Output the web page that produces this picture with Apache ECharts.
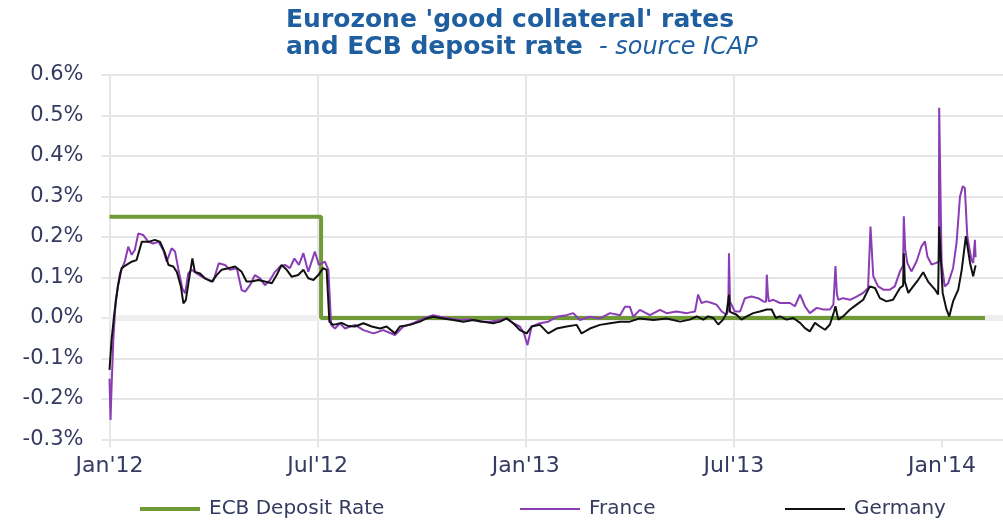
<!DOCTYPE html>
<html>
<head>
<meta charset="utf-8">
<script src="https://cdn.jsdelivr.net/npm/echarts@6/dist/echarts.min.js"></script>
<style>html,body{margin:0;padding:0;background:#fff;}#c{width:1003px;height:520px;}</style>
</head>
<body>
<div id="c"></div>
<script>
// x = months since Jan 2012
const xTickLabels = ["Jan'12", "Jul'12", "Jan'13", "Jul'13", "Jan'14"];
const xTickValues = [0, 6, 12, 18, 24];
const seriesNames = ["ECB Deposit Rate", "France", "Germany"];

const ecbRate = [[0,0.25],[6.1,0.25],[6.1,0],[25.24,0]];

const france = [
[0.00,-0.15],[0.03,-0.252],[0.06,-0.17],[0.11,-0.054],[0.18,0.044],[0.30,0.110],[0.44,0.139],[0.54,0.176],[0.64,0.156],[0.73,0.168],[0.83,0.209],[0.97,0.205],[1.12,0.188],[1.26,0.184],[1.41,0.188],[1.55,0.168],[1.65,0.139],[1.79,0.172],[1.89,0.164],[1.98,0.123],[2.10,0.073],[2.18,0.061],[2.27,0.110],[2.37,0.119],[2.51,0.110],[2.66,0.102],[2.85,0.094],[2.99,0.090],[3.15,0.135],[3.33,0.131],[3.47,0.119],[3.67,0.123],[3.81,0.069],[3.91,0.065],[4.05,0.081],[4.19,0.106],[4.34,0.098],[4.48,0.081],[4.63,0.094],[4.77,0.114],[4.92,0.127],[5.06,0.131],[5.20,0.123],[5.33,0.147],[5.46,0.131],[5.59,0.160],[5.73,0.114],[5.92,0.164],[6.04,0.131],[6.21,0.139],[6.31,0.119],[6.39,-0.017],[6.50,-0.026],[6.64,-0.013],[6.79,-0.026],[7.08,-0.017],
[7.32,-0.030],[7.61,-0.038],[7.89,-0.030],[8.23,-0.042],[8.47,-0.021],[8.76,-0.013],[9.05,-0.001],[9.33,0.007],[9.53,0.003],[9.82,-0.001],[10.10,-0.005],[10.39,-0.003],[10.68,-0.009],[10.97,-0.009],[11.26,-0.005],[11.45,-0.001],[11.64,-0.013],[11.83,-0.021],[11.95,-0.038],[12.05,-0.067],[12.17,-0.021],[12.41,-0.013],[12.65,-0.009],[12.89,0.003],[13.18,0.007],[13.37,0.012],[13.56,-0.005],[13.85,0.003],[14.14,-0.001],[14.43,0.012],[14.72,0.007],[14.86,0.028],[15.00,0.028],[15.10,0.003],[15.29,0.020],[15.58,0.007],[15.87,0.020],[16.06,0.012],[16.35,0.016],[16.64,0.012],
[16.88,0.016],[16.97,0.058],[17.07,0.037],[17.21,0.041],[17.36,0.037],[17.50,0.033],[17.65,0.016],[17.79,0.008],[17.84,0.02],[17.86,0.160],[17.89,0.04],[17.91,0.037],[18.03,0.016],[18.18,0.016],[18.32,0.049],[18.51,0.053],[18.70,0.049],[18.85,0.041],[18.93,0.04],[18.95,0.107],[18.98,0.06],[19.01,0.041],[19.14,0.045],[19.33,0.037],[19.62,0.037],[19.76,0.029],[19.91,0.058],[20.05,0.029],[20.19,0.012],[20.39,0.025],[20.58,0.021],[20.77,0.021],[20.87,0.033],[20.93,0.128],[20.97,0.06],[21.01,0.045],[21.15,0.049],[21.35,0.045],[21.54,0.053],[21.73,0.062],[21.87,0.074],[21.94,0.226],[22.02,0.103],[22.16,0.078],[22.31,0.070],[22.50,0.070],[22.64,0.078],[22.79,0.115],[22.88,0.13],[22.90,0.251],[22.94,0.17],[23.00,0.136],[23.12,0.115],[23.27,0.140],[23.41,0.177],[23.51,0.189],[23.58,0.152],[23.70,0.132],[23.84,0.136],[23.91,0.14],[23.92,0.519],[23.97,0.519],[23.99,0.136],[24.08,0.078],[24.18,0.086],[24.32,0.123],[24.42,0.185],[24.52,0.300],[24.60,0.325],[24.66,0.321],[24.73,0.202],[24.85,0.144],[24.90,0.136],[24.95,0.193],[24.97,0.15]
];

const germany = [
[0.00,-0.128],[0.06,-0.054],[0.14,0.012],[0.24,0.077],[0.35,0.123],[0.49,0.131],[0.64,0.139],[0.78,0.143],[0.93,0.188],[1.12,0.188],[1.31,0.193],[1.46,0.188],[1.60,0.160],[1.70,0.131],[1.84,0.127],[1.94,0.114],[2.06,0.077],[2.13,0.036],[2.20,0.044],[2.29,0.094],[2.39,0.147],[2.46,0.114],[2.61,0.110],[2.75,0.098],[2.95,0.090],[3.09,0.106],[3.23,0.119],[3.43,0.123],[3.62,0.127],[3.81,0.114],[3.95,0.090],[4.10,0.090],[4.29,0.094],[4.48,0.090],[4.68,0.086],[4.82,0.106],[4.96,0.131],[5.11,0.119],[5.25,0.102],[5.44,0.106],[5.59,0.119],[5.73,0.098],[5.88,0.094],[6.02,0.106],[6.16,0.123],[6.26,0.119],[6.34,-0.009],[6.45,-0.017],[6.69,-0.012],[6.88,-0.020],[7.08,-0.021],
[7.32,-0.013],[7.56,-0.021],[7.80,-0.026],[7.99,-0.021],[8.23,-0.038],[8.37,-0.021],[8.66,-0.017],[8.95,-0.009],[9.14,-0.001],[9.33,0.003],[9.62,-0.001],[9.91,-0.005],[10.20,-0.009],[10.49,-0.005],[10.78,-0.009],[11.06,-0.013],[11.26,-0.009],[11.45,-0.001],[11.64,-0.013],[11.83,-0.030],[12.03,-0.038],[12.17,-0.021],[12.41,-0.017],[12.65,-0.038],[12.89,-0.026],[13.18,-0.021],[13.47,-0.017],[13.61,-0.038],[13.85,-0.026],[14.14,-0.017],[14.43,-0.013],[14.72,-0.009],[15.00,-0.009],[15.29,-0.001],[15.68,-0.005],[16.06,-0.001],[16.45,-0.009],
[16.73,-0.004],[16.93,0.004],[17.12,-0.004],[17.26,0.004],[17.41,0.000],[17.55,-0.016],[17.69,-0.004],[17.79,0.012],[17.84,0.015],[17.86,0.058],[17.89,0.015],[17.94,0.012],[18.08,0.008],[18.22,-0.004],[18.37,0.004],[18.56,0.012],[18.75,0.016],[18.95,0.021],[19.09,0.021],[19.21,0.000],[19.33,0.004],[19.52,-0.004],[19.71,0.000],[19.91,-0.012],[20.05,-0.025],[20.19,-0.033],[20.34,-0.012],[20.48,-0.021],[20.63,-0.029],[20.77,-0.016],[20.89,0.016],[20.93,0.029],[21.01,-0.004],[21.15,0.004],[21.35,0.021],[21.54,0.033],[21.73,0.045],[21.92,0.078],[22.07,0.074],[22.21,0.049],[22.40,0.041],[22.59,0.045],[22.79,0.074],[22.88,0.08],[22.90,0.160],[22.93,0.09],[23.03,0.062],[23.17,0.078],[23.32,0.095],[23.46,0.113],[23.60,0.090],[23.80,0.070],[23.89,0.058],[23.92,0.226],[23.97,0.226],[24.02,0.062],[24.13,0.021],[24.21,0.004],[24.32,0.041],[24.47,0.070],[24.57,0.119],[24.69,0.202],[24.81,0.136],[24.90,0.103],[24.95,0.107],[24.97,0.13]
];

const FONT = 'DejaVu Sans';
const LABEL_COLOR = '#353a60';
const GRID_COLOR = '#e6e6e6';
const TITLE_COLOR = '#1f5f9f';
const COLORS = ['#6f9a36', '#8b3db5', '#111111'];

const chart = echarts.init(document.getElementById('c'), null, {renderer: 'canvas'});

function legendAt(name, left, h) {
  return {
    data: [name], left: left, top: 494, itemWidth: 60, itemHeight: h, icon: 'rect',
    textStyle: {fontFamily: FONT, fontSize: 20, color: LABEL_COLOR, padding: [0, 0, 0, 4]}
  };
}

chart.setOption({
  animation: false,
  backgroundColor: '#ffffff',
  title: {
    text: "{b|Eurozone 'good collateral' rates}\n{b|and ECB deposit rate }{i| - source ICAP}",
    left: 281, top: 2,
    textStyle: {
      rich: {
        b: {fontFamily: FONT, fontWeight: 'bold', fontSize: 25, color: TITLE_COLOR, lineHeight: 27},
        i: {fontFamily: FONT, fontWeight: 'normal', fontStyle: 'italic', fontSize: 24, color: TITLE_COLOR, lineHeight: 27}
      }
    }
  },
  legend: [legendAt(seriesNames[0], 135, 4), legendAt(seriesNames[1], 515, 2), legendAt(seriesNames[2], 780, 2)],
  grid: {left: 109.5, right: 0, top: 75, bottom: 80.5},
  xAxis: {
    type: 'value', min: 0, max: 25.76, interval: 6,
    axisLine: {show: true, onZero: false, lineStyle: {color: GRID_COLOR, width: 2}},
    axisTick: {show: true, length: 8, customValues: xTickValues, lineStyle: {color: GRID_COLOR, width: 2}},
    splitLine: {show: true, showMaxLine: false, lineStyle: {color: GRID_COLOR, width: 2}},
    axisLabel: {
      margin: 16, fontFamily: FONT, fontSize: 22, color: LABEL_COLOR,
      customValues: xTickValues,
      formatter: function (v) {
        const k = v / 6;
        return Math.abs(k - Math.round(k)) < 1e-6 ? (xTickLabels[Math.round(k)] || '') : '';
      }
    }
  },
  yAxis: {
    type: 'value', min: -0.3, max: 0.6, interval: 0.1,
    axisLine: {show: true, lineStyle: {color: GRID_COLOR, width: 2}},
    axisTick: {show: true, length: 8, lineStyle: {color: GRID_COLOR, width: 2}},
    splitLine: {show: true, lineStyle: {color: GRID_COLOR, width: 2}},
    axisLabel: {
      margin: 26, fontFamily: FONT, fontSize: 21, color: LABEL_COLOR,
      formatter: function (v) { return (Math.round(v * 10) / 10).toFixed(1) + '%'; }
    }
  },
  series: [
    {
      name: 'zero', type: 'line', data: [], z: 1, silent: true,
      markLine: {
        silent: true, symbol: 'none', label: {show: false}, z: 1,
        lineStyle: {color: '#eeeeee', width: 6, type: 'solid'},
        data: [{yAxis: 0}]
      }
    },
    {
      name: seriesNames[0], type: 'line', data: ecbRate, showSymbol: false, symbol: 'none',
      lineStyle: {color: COLORS[0], width: 4}, itemStyle: {color: COLORS[0]}, z: 2
    },
    {
      name: seriesNames[1], type: 'line', data: france, showSymbol: false, symbol: 'none',
      lineStyle: {color: COLORS[1], width: 2}, itemStyle: {color: COLORS[1]}, z: 3
    },
    {
      name: seriesNames[2], type: 'line', data: germany, showSymbol: false, symbol: 'none',
      lineStyle: {color: COLORS[2], width: 2}, itemStyle: {color: COLORS[2]}, z: 4
    }
  ]
});
</script>
</body>
</html>
